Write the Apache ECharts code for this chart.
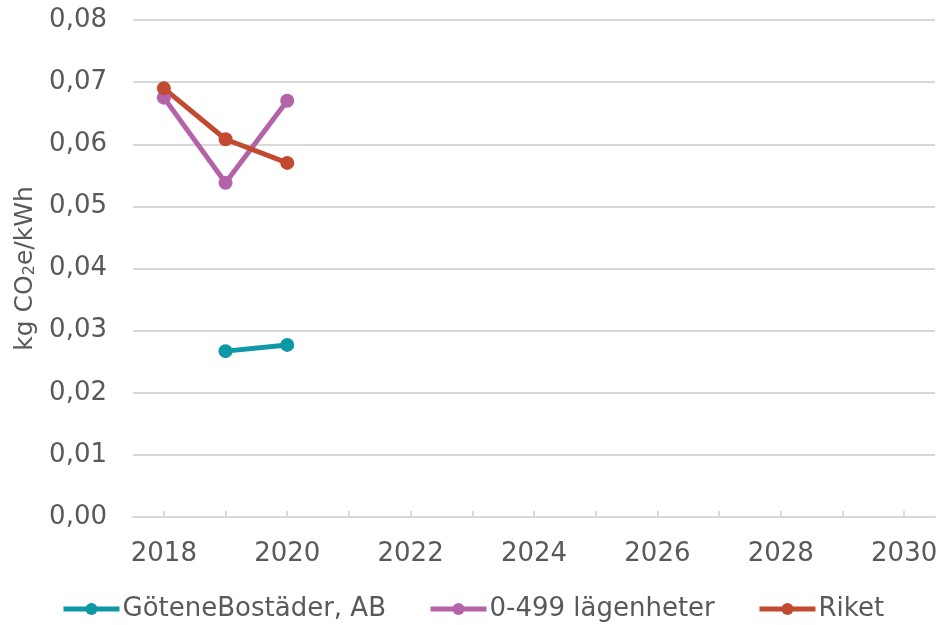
<!DOCTYPE html>
<html>
<head>
<meta charset="utf-8">
<script src="https://cdn.jsdelivr.net/npm/echarts@6/dist/echarts.min.js"></script>
<style>html,body{margin:0;padding:0;background:#fff}#c{width:941px;height:625px}</style>
</head>
<body>
<div id="c"></div>
<script>
const years = ['2018','2019','2020','2021','2022','2023','2024','2025','2026','2027','2028','2029','2030'];
const goteneBostader = [null, 0.0267, 0.0277, null, null, null, null, null, null, null, null, null, null];
const lagenheter0499 = [0.0675, 0.0538, 0.0670, null, null, null, null, null, null, null, null, null, null];
const riket = [0.0690, 0.0608, 0.0570, null, null, null, null, null, null, null, null, null, null];
const seriesNames = ['GöteneBostäder, AB', '0-499 lägenheter', 'Riket'];
const colors = ['#0E97A4', '#B463A8', '#C14A30'];
const legendLeft = [61, 428, 757];

const font = 'Verdana, "DejaVu Sans", sans-serif';
const chart = echarts.init(document.getElementById('c'), null, {renderer: 'canvas'});
function mk(name, data, color) {
  return {
    name, type: 'line', data, connectNulls: false,
    symbol: 'circle', symbolSize: 14,
    lineStyle: {width: 5, color}, itemStyle: {color},
    emphasis: {disabled: true}
  };
}
chart.setOption({
  animation: false,
  color: colors,
  grid: {left: 133, right: 6, top: 20, bottom: 108, containLabel: false},
  legend: seriesNames.map((n, i) => ({
    top: 596, left: legendLeft[i], itemWidth: 56, itemHeight: 15, padding: 0,
    lineStyle: {width: 5}, selectedMode: false,
    textStyle: {fontFamily: font, fontSize: 26, color: '#595959', padding: [0,0,0,-2]},
    data: [n]
  })),
  xAxis: {
    type: 'category', data: years, boundaryGap: true,
    axisLine: {lineStyle: {color: '#D9D9D9', width: 2}},
    axisTick: {show: true, alignWithLabel: true, inside: true, length: 6, interval: 0, lineStyle: {color: '#D9D9D9', width: 2}},
    axisLabel: {interval: 1, margin: 24, fontFamily: font, fontSize: 26, color: '#595959'},
    splitLine: {show: false}
  },
  yAxis: {
    type: 'value', min: 0, max: 0.08, interval: 0.01,
    name: 'kg CO{sub|2}e/kWh', nameLocation: 'middle', nameGap: 95, nameRotate: 90,
    nameTextStyle: {fontFamily: font, fontSize: 25, color: '#595959',
      rich: {sub: {fontFamily: font, fontSize: 16, color: '#595959', verticalAlign: 'bottom', padding: [10,0,0,0]}}},
    axisLine: {show: false}, axisTick: {show: false},
    axisLabel: {margin: 26, fontFamily: font, fontSize: 26, color: '#595959',
      formatter: v => v.toFixed(2).replace('.', ',')},
    splitLine: {lineStyle: {color: '#D9D9D9', width: 2}}
  },
  series: [
    mk(seriesNames[0], goteneBostader, colors[0]),
    mk(seriesNames[1], lagenheter0499, colors[1]),
    mk(seriesNames[2], riket, colors[2])
  ]
});
</script>
</body>
</html>
